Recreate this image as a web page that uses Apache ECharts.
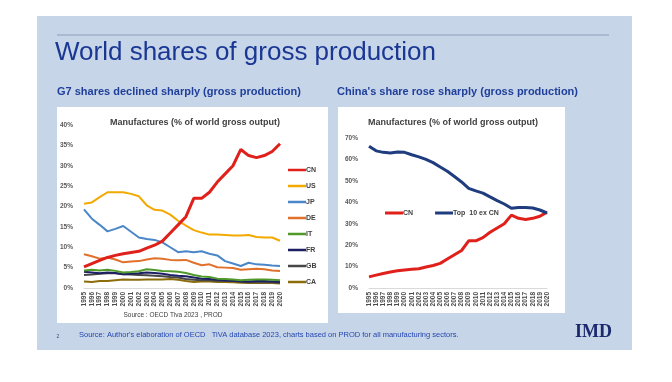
<!DOCTYPE html>
<html><head><meta charset="utf-8">
<script src="https://cdn.jsdelivr.net/npm/echarts@6/dist/echarts.min.js"></script>
<style>html,body{margin:0;padding:0;background:#fff}#c{width:672px;height:382px}</style>
</head><body><div id="c"></div>
<script>
const years = ['1995','1996','1997','1998','1999','2000','2001','2002','2003','2004','2005','2006','2007','2008','2009','2010','2011','2012','2013','2014','2015','2016','2017','2018','2019','2020'];
const yTicksLeft = [0,5,10,15,20,25,30,35,40];
const yTicksRight = [0,10,20,30,40,50,60,70];
const CN = [5.2,6.0,6.8,7.5,8.0,8.4,8.7,9.0,9.8,10.5,11.5,13.5,15.5,17.5,22.0,22.0,23.5,26.0,28.0,30.0,34.0,32.5,32.0,32.5,33.5,35.4];
const US = [20.7,21.0,22.3,23.5,23.5,23.5,23.1,22.5,20.3,19.2,19.0,18.0,16.5,15.3,14.2,13.6,13.1,13.1,13.0,12.9,12.9,13.0,12.5,12.4,12.4,11.6];
const JP = [19.3,17.0,15.5,13.9,14.5,15.2,13.8,12.4,12.0,11.8,11.2,10.0,8.8,9.0,8.8,9.0,8.4,8.0,6.6,6.0,5.4,6.2,5.8,5.7,5.5,5.4];
const DE = [8.3,7.8,7.2,7.5,7.0,6.3,6.5,6.6,7.0,7.3,7.2,6.9,6.8,6.9,6.2,5.6,5.8,5.1,5.0,4.9,4.5,4.6,4.7,4.6,4.3,4.2];
const IT = [4.3,4.5,4.3,4.5,4.2,3.8,3.9,4.1,4.6,4.4,4.2,4.1,4.0,3.7,3.2,2.8,2.7,2.3,2.2,2.1,1.9,2.0,2.1,2.1,2.0,1.9];
const FR = [4.0,3.8,3.6,3.8,3.7,3.4,3.5,3.6,3.8,3.7,3.5,3.2,3.0,2.9,2.6,2.3,2.2,2.0,1.9,1.8,1.6,1.6,1.7,1.7,1.6,1.5];
const GB = [3.2,3.3,3.5,3.6,3.6,3.4,3.3,3.2,3.1,3.0,2.9,2.7,2.6,2.2,2.0,1.9,1.9,1.8,1.7,1.7,1.6,1.4,1.4,1.4,1.4,1.3];
const CA = [1.6,1.5,1.7,1.7,1.9,2.1,2.0,2.0,2.1,2.1,2.1,2.2,2.0,1.7,1.5,1.6,1.6,1.5,1.5,1.4,1.3,1.2,1.2,1.2,1.2,1.1];
const TOP10 = [66.2,64.0,63.3,63.0,63.5,63.3,62.2,61.2,60.0,58.5,56.5,54.5,52.0,49.5,46.5,45.3,44.3,42.5,40.8,39.2,37.2,37.6,37.6,37.3,36.4,35.0];

const leftNames = ['CN','US','JP','DE','IT','FR','GB','CA'];
const leftData = [CN,US,JP,DE,IT,FR,GB,CA];
const leftColors = ['#e0201a','#f2a900','#4a86c8','#e0702a','#4f9a2a','#1c1f63','#474747','#8c6d0a'];
const leftWidths = [3,2,2,2,2,2,2,2];

const chart = echarts.init(document.getElementById('c'), null, {renderer:'canvas'});
const axisLabelY = {fontSize:6.5, color:'#595959', fontWeight:'bold', fontFamily:'Liberation Sans', formatter:'{value}%', margin:11};
const axisLabelX = {fontSize:6.5, color:'#4a4a4a', fontWeight:'bold', fontFamily:'Liberation Sans', rotate:90, interval:0, margin:4};

const series = [];
leftNames.forEach((n,i)=>{
  series.push({name:n, type:'line', xAxisIndex:0, yAxisIndex:0, data:leftData[i], symbol:'none', smooth:false,
    lineStyle:{width:leftWidths[i], color:leftColors[i]}, itemStyle:{color:leftColors[i]}, z: 10-i});
});
series.push({name:'CN ', type:'line', xAxisIndex:1, yAxisIndex:1, data:CN, symbol:'none',
  lineStyle:{width:3,color:'#e0201a'}, itemStyle:{color:'#e0201a'}});
series.push({name:'Top  10 ex CN', type:'line', xAxisIndex:1, yAxisIndex:1, data:TOP10, symbol:'none',
  lineStyle:{width:3,color:'#1f3c7e'}, itemStyle:{color:'#1f3c7e'}});

const legText = {fontSize:7, lineHeight:8, color:'#404040', fontWeight:'bold', fontFamily:'Liberation Sans', padding:[0,0,0,-5]};

chart.setOption({
  backgroundColor:'#ffffff',
  animation:false,
  graphic:[
    {type:'rect', shape:{x:37,y:16,width:595,height:334}, style:{fill:'#c7d5e9'}, z:-10},
    {type:'line', shape:{x1:57,y1:35,x2:609,y2:35}, style:{stroke:'#8d9dbb', lineWidth:1}, z:-9},
    {type:'text', left:55, top:40, style:{text:'World shares of gross production', fill:'#1a3793', font:'26px "Liberation Sans"'}, z:-9},
    {type:'text', left:57, top:86, style:{text:'G7 shares declined sharply (gross production)', fill:'#1f3f9a', font:'bold 11px "Liberation Sans"'}, z:-9},
    {type:'text', left:337, top:86, style:{text:"China's share rose sharply (gross production)", fill:'#1f3f9a', font:'bold 11px "Liberation Sans"'}, z:-9},
    {type:'rect', shape:{x:57,y:107,width:271,height:216}, style:{fill:'#ffffff'}, z:-9},
    {type:'rect', shape:{x:338,y:107,width:227,height:206}, style:{fill:'#ffffff'}, z:-9},
    {type:'text', x:195, y:123, style:{text:'Manufactures (% of world gross output)', fill:'#404040', font:'bold 9px "Liberation Sans"', align:'center', verticalAlign:'middle'}, z:-8},
    {type:'text', x:453, y:123, style:{text:'Manufactures (% of world gross output)', fill:'#404040', font:'bold 9px "Liberation Sans"', align:'center', verticalAlign:'middle'}, z:-8},
    {type:'text', x:173, y:315, style:{text:'Source : OECD Tiva 2023 , PROD', fill:'#404040', font:'6.5px "Liberation Sans"', align:'center', verticalAlign:'middle'}, z:-8},
    {type:'text', x:58, y:337, style:{text:'2', fill:'#3a4a7a', font:'5px "Liberation Sans"', align:'center', verticalAlign:'middle'}, z:-8},
    {type:'text', x:79, y:335, style:{text:"Source: Author's elaboration of OECD   TiVA database 2023, charts based on PROD for all manufacturing sectors.", fill:'#2447b0', font:'7.5px "Liberation Sans"', verticalAlign:'middle'}, z:-8},
    {type:'text', x:575, y:332, style:{text:'IMD', fill:'#1b2a6e', font:'bold 18px "Liberation Serif"', verticalAlign:'middle'}, z:-8}
  ],
  grid:[
    {left:84, top:125, width:196, height:163},
    {left:369, top:138, width:178, height:150}
  ],
  xAxis:[
    {type:'category', gridIndex:0, data:years, boundaryGap:false, axisTick:{show:false}, axisLine:{lineStyle:{color:'#d9d9d9'}}, axisLabel:axisLabelX},
    {type:'category', gridIndex:1, data:years, boundaryGap:false, axisTick:{show:false}, axisLine:{lineStyle:{color:'#d9d9d9'}}, axisLabel:axisLabelX}
  ],
  yAxis:[
    {type:'value', gridIndex:0, min:yTicksLeft[0], max:yTicksLeft[yTicksLeft.length-1], interval:5, splitLine:{show:false}, axisLine:{show:false}, axisTick:{show:false}, axisLabel:axisLabelY},
    {type:'value', gridIndex:1, min:yTicksRight[0], max:yTicksRight[yTicksRight.length-1], interval:10, splitLine:{show:false}, axisLine:{show:false}, axisTick:{show:false}, axisLabel:axisLabelY}
  ],
  legend:[
    {data:leftNames.map((n,i)=>({name:n, icon:'rect', itemStyle:{color:leftColors[i]}})), orient:'vertical', left:288, top:166,
      itemWidth:18, itemHeight:2.5, itemGap:8, textStyle:legText, padding:0},
    {data:['CN ','Top  10 ex CN'].map(n=>({name:n, icon:'rect'})), orient:'horizontal', left:385, top:209,
      itemWidth:18, itemHeight:3, itemGap:20, textStyle:legText, padding:0}
  ],
  series:series
});
</script></body></html>
